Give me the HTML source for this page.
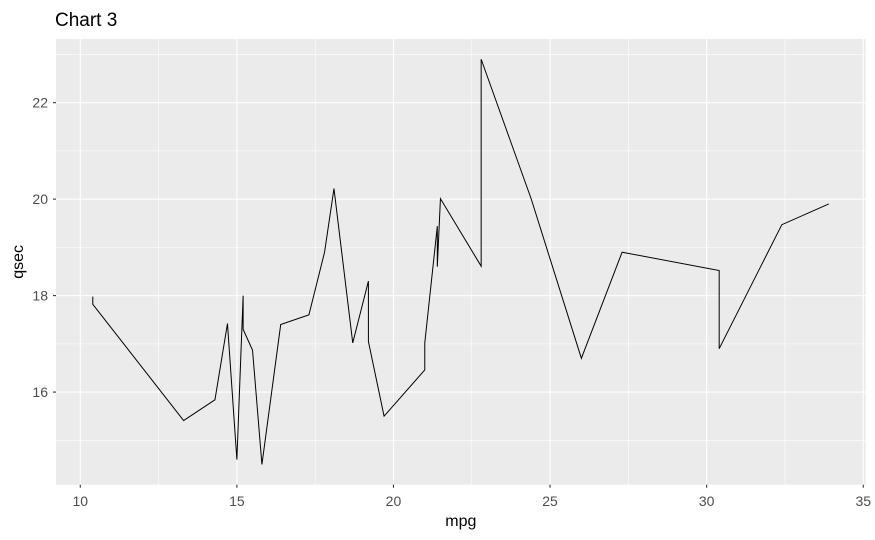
<!DOCTYPE html>
<html><head><meta charset="utf-8">
<style>
body{margin:0;background:#fff;}
svg{display:block;font-family:"Liberation Sans",Arial,sans-serif;}
</style></head>
<body>
<svg id="chart" width="875" height="540"></svg>
<script>
const mpgValues=[10.4,10.4,13.3,14.3,14.7,15.0,15.2,15.2,15.5,15.8,16.4,17.3,17.8,18.1,18.7,19.2,19.2,19.7,21.0,21.0,21.4,21.4,21.5,22.8,22.8,24.4,26.0,27.3,30.4,30.4,32.4,33.9];
const qsecValues=[17.98,17.82,15.41,15.84,17.42,14.60,18.00,17.30,16.87,14.50,17.40,17.60,18.90,20.22,17.02,18.30,17.05,15.50,16.46,17.02,19.44,18.60,20.01,18.61,22.90,20.00,16.70,18.90,18.52,16.90,19.47,19.90];
const xTicks=[10,15,20,25,30,35];
const yTicks=[16,18,20,22];

const NS="http://www.w3.org/2000/svg";
const svg=document.getElementById('chart');
const L=56.0,R=865.6,T=39.0,B=484.7;
const xmin=9.225,xmax=35.075,ymin=14.08,ymax=23.32;
const xs=v=>L+(v-xmin)/(xmax-xmin)*(R-L);
const ys=v=>B-(v-ymin)/(ymax-ymin)*(B-T);
function mk(tag,attrs,parent){const e=document.createElementNS(NS,tag);for(const k in attrs)e.setAttribute(k,attrs[k]);(parent||svg).appendChild(e);return e;}

const panel=mk('rect',{x:L,y:T,width:R-L,height:B-T,fill:'#ebebeb'});



for(let i=0;i<xTicks.length-1;i++){const m=(xTicks[i]+xTicks[i+1])/2;const g=mk('line',{x1:xs(m),x2:xs(m),y1:T,y2:B,stroke:'#fff','stroke-width':0.55});

}
const yMinor=[15,17,19,21,23];
yMinor.forEach(m=>{const g=mk('line',{x1:L,x2:R,y1:ys(m),y2:ys(m),stroke:'#fff','stroke-width':0.55});

});
xTicks.forEach(t=>{
const g=mk('line',{x1:xs(t),x2:xs(t),y1:T,y2:B,stroke:'#fff','stroke-width':1.1});


mk('line',{x1:xs(t),x2:xs(t),y1:B,y2:B+3,stroke:'#333','stroke-width':1.1});
const tx=mk('text',{x:xs(t),y:506,'text-anchor':'middle','font-size':14,fill:'#4d4d4d'});tx.textContent=t;


});
yTicks.forEach(t=>{
const g=mk('line',{x1:L,x2:R,y1:ys(t),y2:ys(t),stroke:'#fff','stroke-width':1.1});


mk('line',{x1:L-3,x2:L,y1:ys(t),y2:ys(t),stroke:'#333','stroke-width':1.1});
const tx=mk('text',{x:L-8,y:ys(t)+5,'text-anchor':'end','font-size':14,fill:'#4d4d4d'});tx.textContent=t;


});
const pts=mpgValues.map((v,i)=>xs(v).toFixed(2)+','+ys(qsecValues[i]).toFixed(2)).join(' ');
const line=mk('polyline',{points:pts,fill:'none',stroke:'#000','stroke-width':1});



const title=mk('text',{x:55,y:26,'font-size':19,fill:'#000'});title.textContent='Chart 3';


const xt=mk('text',{x:(L+R)/2,y:526,'text-anchor':'middle','font-size':16,fill:'#000'});xt.textContent='mpg';


const yt=mk('text',{x:0,y:0,'text-anchor':'middle','font-size':16,fill:'#000',transform:`translate(23,${(T+B)/2}) rotate(-90)`});yt.textContent='qsec';


</script>
</body></html>
